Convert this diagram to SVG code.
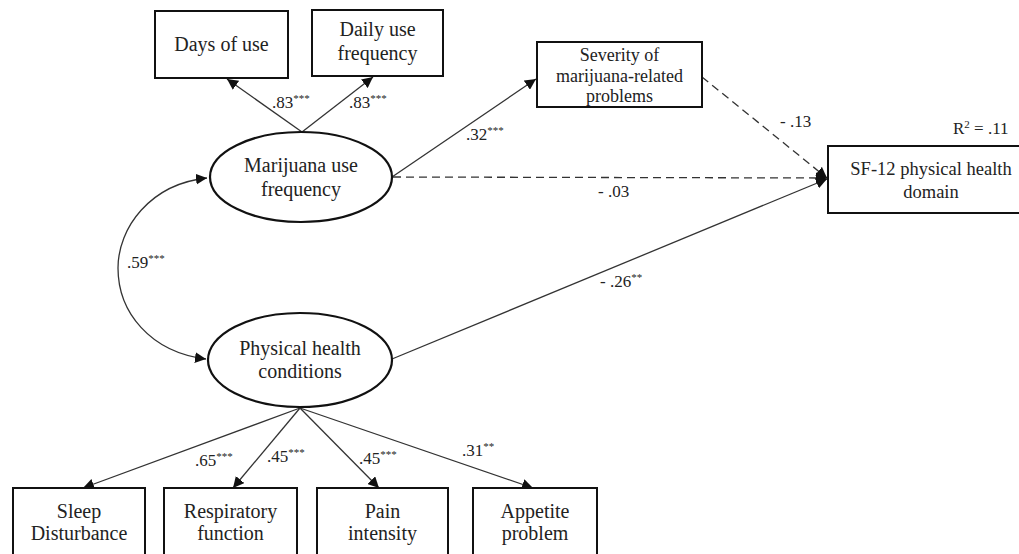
<svg xmlns="http://www.w3.org/2000/svg" width="1019" height="554" viewBox="0 0 1019 554">
<style>
  .box{fill:#fff;stroke:#111;stroke-width:2}
  .ell{fill:#fff;stroke:#111;stroke-width:2.2}
  .t{font-family:"Liberation Serif","Times New Roman",serif;font-size:20px;fill:#222;text-anchor:middle}
  .s{font-family:"Liberation Serif","Times New Roman",serif;font-size:17px;fill:#222}
  .sup{font-size:11px}
  .ln{fill:none;stroke:#333;stroke-width:1.3}
  .dash{stroke-dasharray:8 5}
</style>
<defs>
  <marker id="ah" viewBox="0 0 10 10" refX="10" refY="5" markerWidth="11" markerHeight="11" markerUnits="userSpaceOnUse" orient="auto-start-reverse">
    <path d="M0,0 L10,5 L0,10 z" fill="#111"/>
  </marker>
</defs>
<rect width="1019" height="554" fill="#fff"/>

<g id="connectors">
  <line class="ln" x1="302" y1="132" x2="227" y2="79" marker-end="url(#ah)"/>
  <line class="ln" x1="302" y1="132" x2="373" y2="77" marker-end="url(#ah)"/>
  <line class="ln" x1="392" y1="177" x2="536" y2="79" marker-end="url(#ah)"/>
  <line class="ln dash" x1="393" y1="177" x2="827" y2="178" marker-end="url(#ah)"/>
  <line class="ln dash" x1="702" y1="77" x2="827" y2="178" marker-end="url(#ah)"/>
  <line class="ln" x1="392" y1="359" x2="827" y2="179" marker-end="url(#ah)"/>
  <path class="ln" d="M207,178 C150,184 118,228 118,268 C118,312 150,352 206,359" marker-start="url(#ah)" marker-end="url(#ah)"/>
  <line class="ln" x1="300" y1="408" x2="83" y2="488" marker-end="url(#ah)"/>
  <line class="ln" x1="300" y1="408" x2="233" y2="488" marker-end="url(#ah)"/>
  <line class="ln" x1="300" y1="408" x2="379" y2="488" marker-end="url(#ah)"/>
  <line class="ln" x1="300" y1="408" x2="533" y2="488" marker-end="url(#ah)"/>
</g>

<g id="labels">
  <text class="s" x="272" y="108">.83<tspan class="sup" dy="-6">***</tspan></text>
  <text class="s" x="349" y="108">.83<tspan class="sup" dy="-6">***</tspan></text>
  <text class="s" x="466" y="140">.32<tspan class="sup" dy="-6">***</tspan></text>
  <text class="s" x="598" y="197">- .03</text>
  <text class="s" x="780" y="127">- .13</text>
  <text class="s" x="953" y="134">R<tspan class="sup" dy="-6">2</tspan><tspan dy="6"> = .11</tspan></text>
  <text class="s" x="127" y="268">.59<tspan class="sup" dy="-6">***</tspan></text>
  <text class="s" x="600" y="287">- .26<tspan class="sup" dy="-6">**</tspan></text>
  <text class="s" x="195" y="466">.65<tspan class="sup" dy="-6">***</tspan></text>
  <text class="s" x="267" y="462">.45<tspan class="sup" dy="-6">***</tspan></text>
  <text class="s" x="359" y="464">.45<tspan class="sup" dy="-6">***</tspan></text>
  <text class="s" x="462" y="456">.31<tspan class="sup" dy="-6">**</tspan></text>
</g>

<g id="days-of-use">
  <rect class="box" x="155" y="11" width="133" height="67"/>
  <text class="t" x="221.5" y="51">Days of use</text>
</g>
<g id="daily-use-frequency">
  <rect class="box" x="312" y="10" width="131" height="66"/>
  <text class="t" x="377.5" y="36">Daily use</text>
  <text class="t" x="377.5" y="60">frequency</text>
</g>
<g id="severity">
  <rect class="box" x="537" y="42" width="165" height="65"/>
  <text class="t" x="619.5" y="61" style="font-size:18px">Severity of</text>
  <text class="t" x="619.5" y="82" style="font-size:18px">marijuana-related</text>
  <text class="t" x="619.5" y="102" style="font-size:18px">problems</text>
</g>
<g id="sf12">
  <rect class="box" x="828" y="146" width="206" height="67"/>
  <text class="t" x="931" y="175" style="font-size:18.5px">SF-12 physical health</text>
  <text class="t" x="931" y="198" style="font-size:18.5px">domain</text>
</g>
<g id="marijuana-use-frequency">
  <ellipse class="ell" cx="301" cy="177" rx="91" ry="45"/>
  <text class="t" x="301" y="172">Marijuana use</text>
  <text class="t" x="301" y="196">frequency</text>
</g>
<g id="physical-health-conditions">
  <ellipse class="ell" cx="300" cy="360" rx="92" ry="47"/>
  <text class="t" x="300" y="355">Physical health</text>
  <text class="t" x="300" y="378">conditions</text>
</g>
<g id="sleep">
  <rect class="box" x="13" y="488" width="132" height="70"/>
  <text class="t" x="79" y="518">Sleep</text>
  <text class="t" x="79" y="540">Disturbance</text>
</g>
<g id="respiratory">
  <rect class="box" x="164" y="488" width="133" height="70"/>
  <text class="t" x="230.5" y="518">Respiratory</text>
  <text class="t" x="230.5" y="540">function</text>
</g>
<g id="pain">
  <rect class="box" x="317" y="488" width="131" height="70"/>
  <text class="t" x="382.5" y="518">Pain</text>
  <text class="t" x="382.5" y="540">intensity</text>
</g>
<g id="appetite">
  <rect class="box" x="473" y="488" width="124" height="70"/>
  <text class="t" x="535" y="518">Appetite</text>
  <text class="t" x="535" y="540">problem</text>
</g>
</svg>
